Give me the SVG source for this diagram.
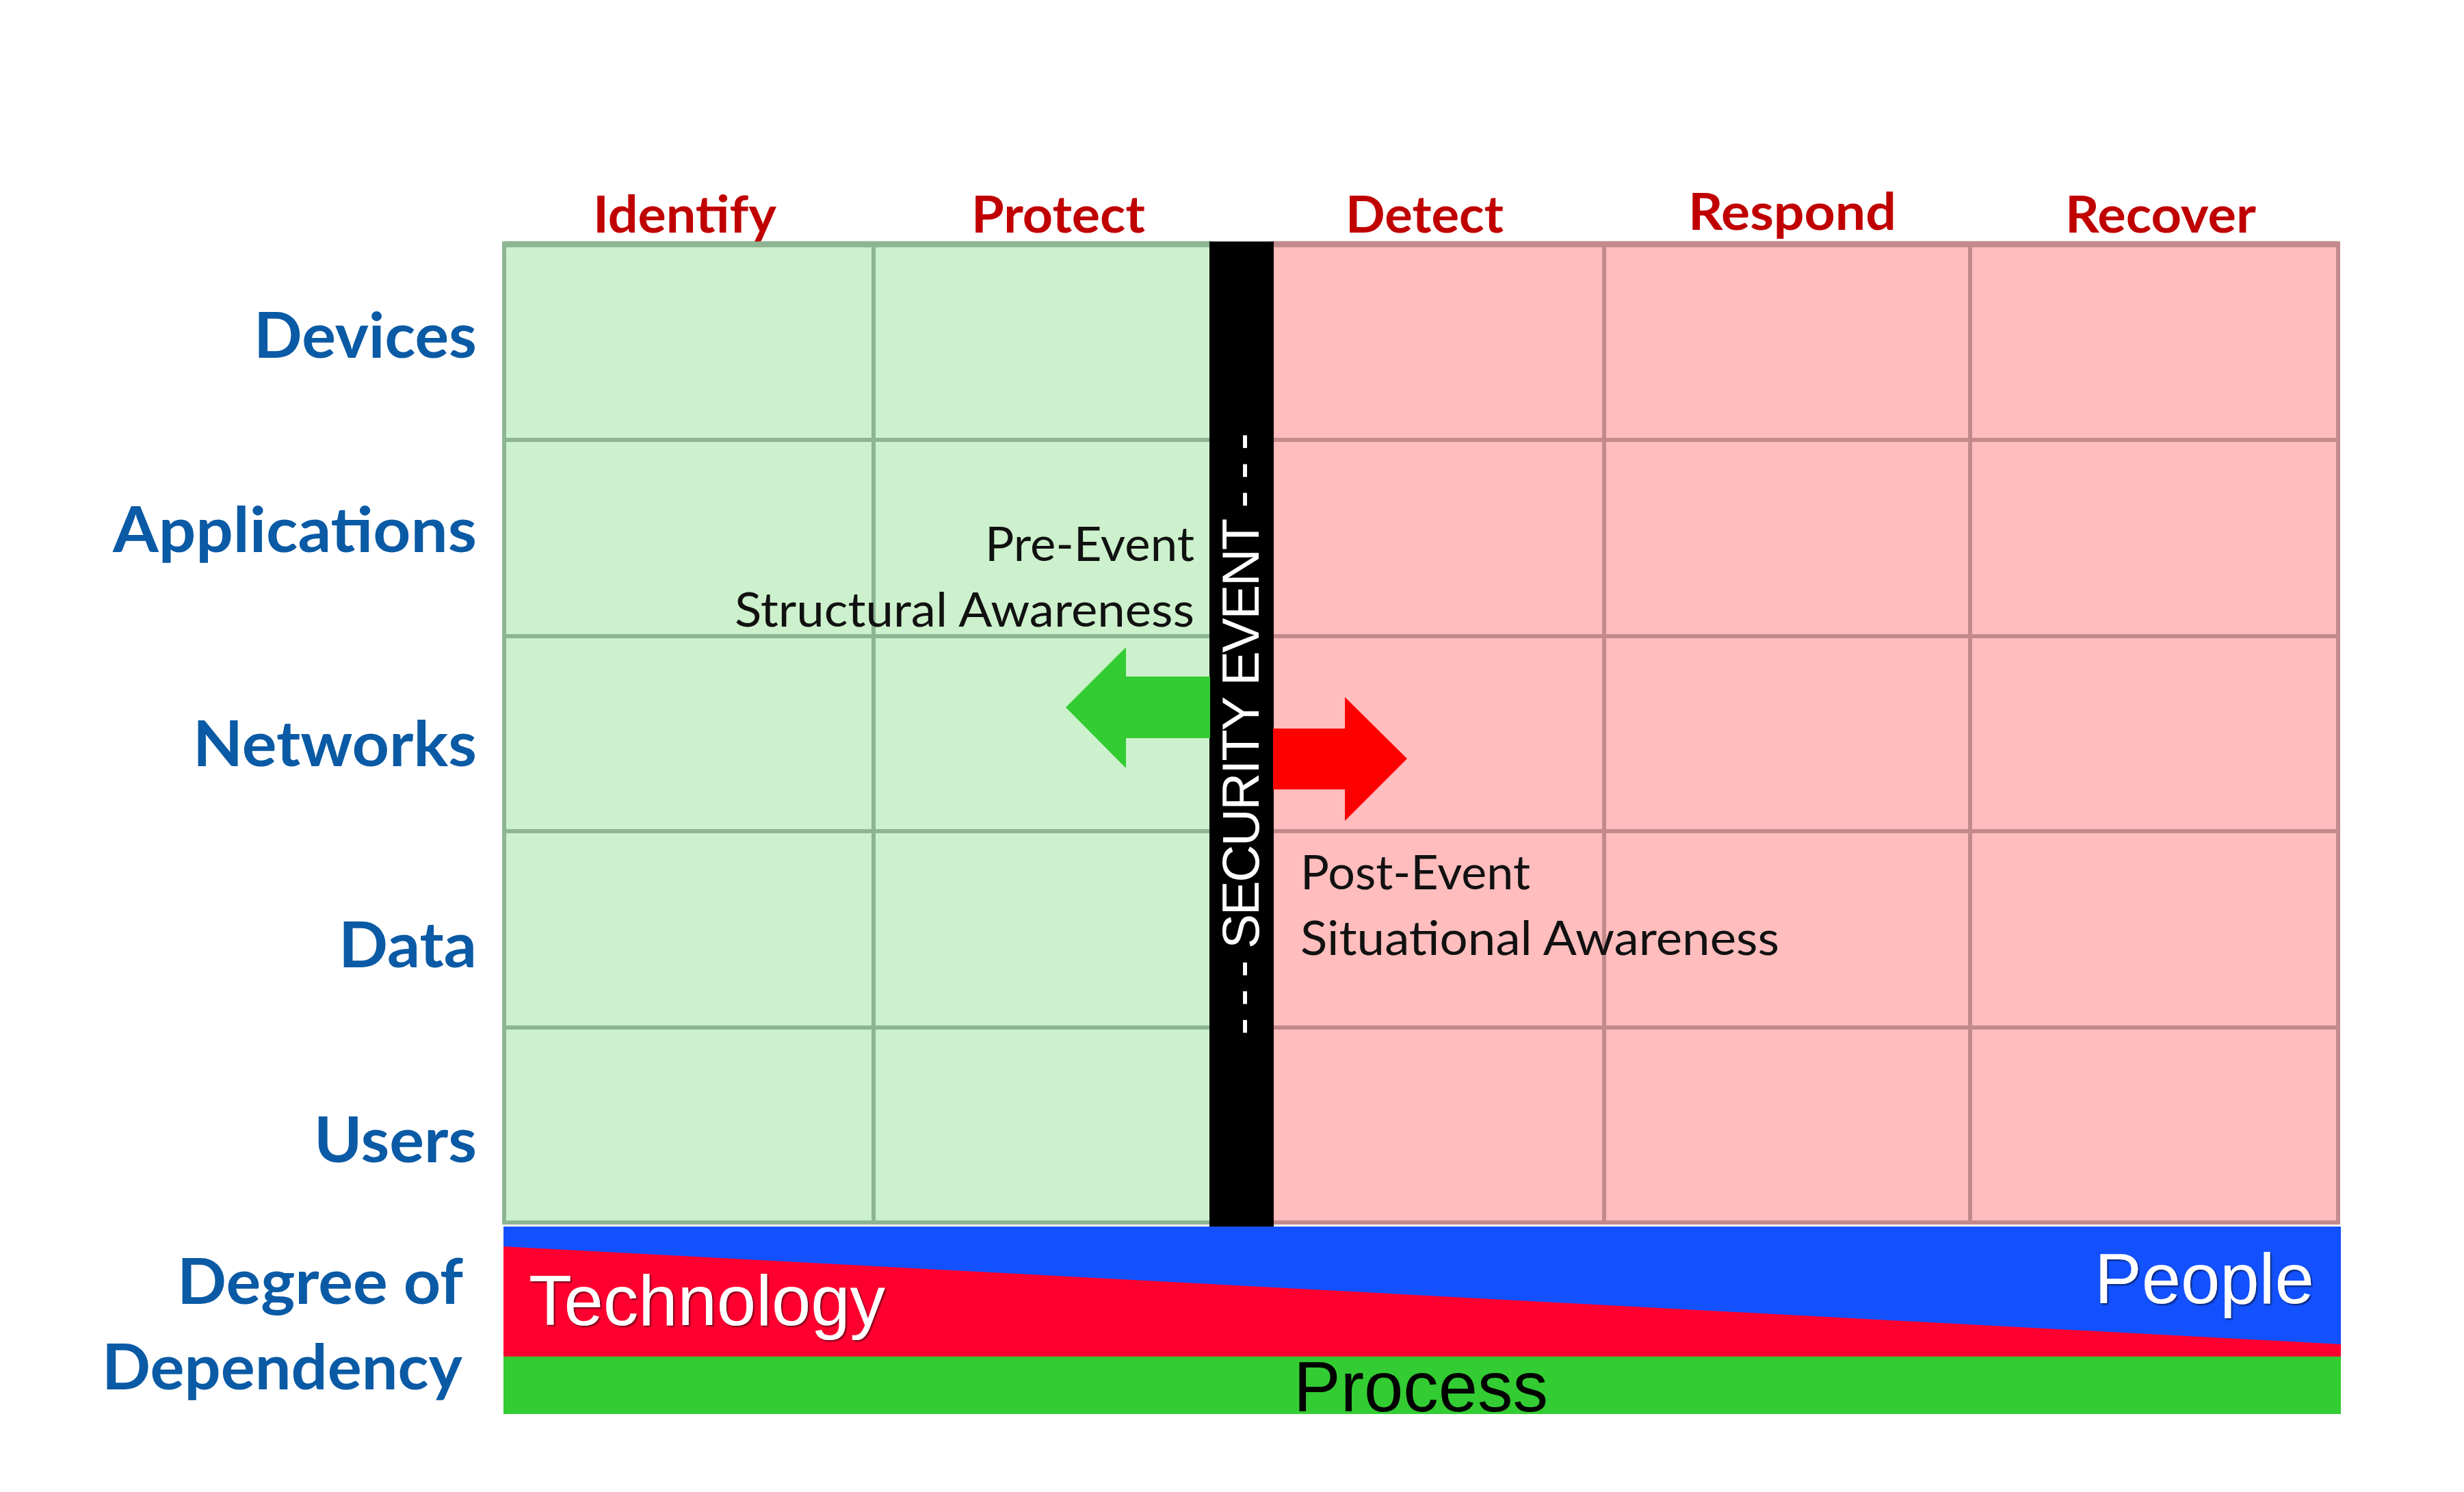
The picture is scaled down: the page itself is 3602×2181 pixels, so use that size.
<svg xmlns="http://www.w3.org/2000/svg" width="3602" height="2181" viewBox="0 0 3602 2181">
  <style>
    .hdr { font-family: Lato, "Open Sans", "Liberation Sans", sans-serif; font-weight: 700; font-size: 74px; fill: #C00000; }
    .row { font-family: Lato, "Open Sans", "Liberation Sans", sans-serif; font-weight: 700; font-size: 91px; fill: #0A5AA5; }
    .note { font-family: Lato, "Open Sans", "Liberation Sans", sans-serif; font-weight: 400; font-size: 69px; fill: #111111; }
    .big { font-family: "Liberation Sans", Arial, sans-serif; font-size: 103px; }
    .gline { stroke: #8DB593; stroke-width: 6; }
    .pline { stroke: #C38A8C; stroke-width: 6; }
    .gfill { fill: #CCF1CC; stroke: #8DB593; stroke-width: 6; }
    .pfill { fill: #FFBDBD; stroke: #C38A8C; stroke-width: 6; }
  </style>
  <defs>
    <filter id="shadow" x="-5%" y="-20%" width="110%" height="140%">
      <feDropShadow dx="2" dy="2" stdDeviation="1.2" flood-color="#000000" flood-opacity="0.55"/>
    </filter>
  </defs>
  <rect width="3602" height="2181" fill="#FFFFFF"/>

  <g id="grid-pre-event">
    <rect x="737" y="356" width="1035" height="1431" class="gfill"/>
    <line x1="1277" y1="356" x2="1277" y2="1787" class="gline"/>
    <line x1="737" y1="643" x2="1772" y2="643" class="gline"/>
    <line x1="737" y1="930" x2="1772" y2="930" class="gline"/>
    <line x1="737" y1="1215" x2="1772" y2="1215" class="gline"/>
    <line x1="737" y1="1502" x2="1772" y2="1502" class="gline"/>
    <line x1="737" y1="357" x2="1772" y2="357" stroke="#8DB593" stroke-width="9"/>
  </g>

  <g id="grid-post-event">
    <rect x="1858" y="356" width="1560" height="1431" class="pfill"/>
    <line x1="2345" y1="356" x2="2345" y2="1787" class="pline"/>
    <line x1="2880" y1="356" x2="2880" y2="1787" class="pline"/>
    <line x1="1858" y1="643" x2="3418" y2="643" class="pline"/>
    <line x1="1858" y1="930" x2="3418" y2="930" class="pline"/>
    <line x1="1858" y1="1215" x2="3418" y2="1215" class="pline"/>
    <line x1="1858" y1="1502" x2="3418" y2="1502" class="pline"/>
    <line x1="1858" y1="357" x2="3418" y2="357" stroke="#C38A8C" stroke-width="9"/>
  </g>

  <g id="column-headers">
    <text class="hdr" x="867" y="340" textLength="268" lengthAdjust="spacingAndGlyphs">Identify</text>
    <text class="hdr" x="1420" y="340" textLength="254" lengthAdjust="spacingAndGlyphs">Protect</text>
    <text class="hdr" x="1967" y="340" textLength="231" lengthAdjust="spacingAndGlyphs">Detect</text>
    <text class="hdr" x="2468" y="336" textLength="304" lengthAdjust="spacingAndGlyphs">Respond</text>
    <text class="hdr" x="3019" y="340" textLength="279" lengthAdjust="spacingAndGlyphs">Recover</text>
  </g>

  <g id="row-labels">
    <text class="row" x="371" y="523" textLength="326" lengthAdjust="spacingAndGlyphs">Devices</text>
    <text class="row" x="165" y="807" textLength="532" lengthAdjust="spacingAndGlyphs">Applications</text>
    <text class="row" x="282" y="1120" textLength="415" lengthAdjust="spacingAndGlyphs">Networks</text>
    <text class="row" x="495" y="1414" textLength="202" lengthAdjust="spacingAndGlyphs">Data</text>
    <text class="row" x="459" y="1699" textLength="238" lengthAdjust="spacingAndGlyphs">Users</text>
  </g>

  <g id="security-event">
    <rect x="1768" y="353" width="94" height="1440" fill="#000000"/>
    <text transform="translate(1840,1073) rotate(-90)" text-anchor="middle" font-family="'Liberation Sans', Arial, sans-serif" font-size="76" fill="#FFFFFF" textLength="880">- - - SECURITY  EVENT - - -</text>
  </g>

  <g id="connectors">
    <polygon id="pre-event-arrow" points="1558,1034 1646,946 1646,989 1769,989 1769,1079 1646,1079 1646,1123" fill="#33CC33"/>
    <polygon id="post-event-arrow" points="1861,1065 1966,1065 1966,1019 2057,1109 1966,1200 1966,1154 1861,1154" fill="#FF0000"/>
  </g>

  <g id="pre-event-label">
    <text class="note" x="1440" y="820" textLength="306" lengthAdjust="spacingAndGlyphs">Pre-Event</text>
    <text class="note" x="1074" y="916" textLength="672" lengthAdjust="spacingAndGlyphs">Structural Awareness</text>
  </g>

  <g id="post-event-label">
    <text class="note" x="1901" y="1300" textLength="336" lengthAdjust="spacingAndGlyphs">Post-Event</text>
    <text class="note" x="1901" y="1396" textLength="700" lengthAdjust="spacingAndGlyphs">Situational Awareness</text>
  </g>

  <g id="dependency-band">
    <rect x="736" y="1793" width="2686" height="192" fill="#1351FE"/>
    <polygon points="736,1822 3422,1965 3422,1985 736,1985" fill="#FE0030"/>
    <rect x="736" y="1983" width="2686" height="84" fill="#33CC33"/>
    <text class="big" x="773" y="1937" fill="#FFFFFF" filter="url(#shadow)">Technology</text>
    <text class="big" x="3062" y="1905" font-size="101" fill="#FFFFFF" filter="url(#shadow)">People</text>
    <text class="big" x="1891" y="2063" fill="#000000">Process</text>
  </g>

  <g id="dependency-label">
    <text class="row" x="259" y="1906" textLength="418" lengthAdjust="spacingAndGlyphs">Degree of</text>
    <text class="row" x="149" y="2031" textLength="527" lengthAdjust="spacingAndGlyphs">Dependency</text>
  </g>
</svg>
